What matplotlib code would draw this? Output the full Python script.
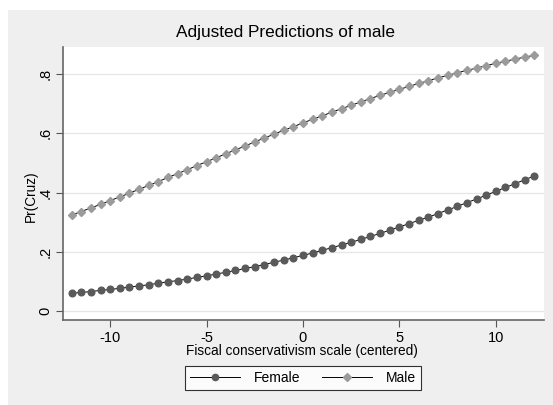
import numpy as np
import matplotlib
matplotlib.use("Agg")
from matplotlib import pyplot as plt
from matplotlib.patches import Rectangle
from matplotlib.lines import Line2D

plt.rcParams['font.family'] = ['Liberation Sans', 'DejaVu Sans']
plt.rcParams['axes.unicode_minus'] = False

# Data
fiscal = np.arange(-12, 12.01, 0.5)
female = [0.060, 0.063, 0.066, 0.070, 0.073, 0.077, 0.081, 0.085, 0.089, 0.094,
          0.099, 0.103, 0.108, 0.114, 0.119, 0.125, 0.131, 0.137, 0.144, 0.150,
          0.157, 0.165, 0.172, 0.180, 0.188, 0.196, 0.205, 0.214, 0.223, 0.232,
          0.242, 0.252, 0.262, 0.273, 0.284, 0.295, 0.306, 0.317, 0.329, 0.341,
          0.353, 0.366, 0.378, 0.391, 0.404, 0.417, 0.430, 0.443, 0.456]
male = [0.324, 0.336, 0.348, 0.360, 0.373, 0.385, 0.398, 0.411, 0.424, 0.437,
        0.451, 0.464, 0.477, 0.491, 0.504, 0.517, 0.531, 0.544, 0.557, 0.571,
        0.584, 0.597, 0.610, 0.622, 0.635, 0.647, 0.659, 0.671, 0.683, 0.694,
        0.706, 0.717, 0.728, 0.738, 0.748, 0.758, 0.768, 0.777, 0.787, 0.795,
        0.804, 0.812, 0.820, 0.828, 0.836, 0.843, 0.850, 0.857, 0.863]
xticks = [-10, -5, 0, 5, 10]
yticks = [0, 0.2, 0.4, 0.6, 0.8]
ylabels = ['0', '.2', '.4', '.6', '.8']

W, H = 553, 405
fig = plt.figure(figsize=(W / 100, H / 100), dpi=100)
fig.patch.set_facecolor('white')
# outer grey graph region
fig.patches.append(Rectangle((8 / W, 0), 1 - 8 / W, 1 - 10 / H,
                             transform=fig.transFigure, facecolor='#efefef',
                             edgecolor='none', zorder=-10))

ax = fig.add_axes([63.3 / W, 1 - 320 / H, (544 - 63.3) / W, (320 - 46.7) / H])
ax.set_facecolor('white')
ax.plot(fiscal, female, color='black', lw=0.7, marker='o', ms=4.8,
        mfc='#5a5a5a', mec='#5a5a5a', zorder=3)
ax.plot(fiscal, male, color='black', lw=0.7, marker='D', ms=4.3,
        mfc='#9b9b9b', mec='#9b9b9b', zorder=3)

ax.set_xlim(-12.43, 12.5)
ax.set_ylim(-0.03, 0.892)
ax.set_xticks(xticks)
ax.set_yticks(yticks)
ax.set_yticklabels(ylabels, rotation=90, va='center')
ax.tick_params(axis='both', labelsize=10.5, length=5, width=0.8,
               color='#555555', direction='out', pad=3)
for s in ['top', 'right']:
    ax.spines[s].set_visible(False)
for s in ['left', 'bottom']:
    ax.spines[s].set_color('#666666')
    ax.spines[s].set_linewidth(1.2)
ax.grid(axis='y', color='#e6e6e6', lw=0.9, zorder=0)
ax.set_axisbelow(True)

fig.text(286 / W, 1 - 33 / H, 'Adjusted Predictions of male', ha='center',
         va='center', fontsize=12.4)
fig.text(301.5 / W, 1 - 351 / H, 'Fiscal conservativism scale (centered)',
         ha='center', va='center', fontsize=9.8)
fig.text(31 / W, 1 - 196 / H, 'Pr(Cruz)', ha='center', va='center',
         rotation=90, fontsize=9.8)

handles = [Line2D([], [], color='black', lw=0.7, marker='o', ms=4.5,
                  mfc='#5a5a5a', mec='#5a5a5a'),
           Line2D([], [], color='black', lw=0.7, marker='D', ms=4,
                  mfc='#9b9b9b', mec='#9b9b9b')]
leg = fig.legend(handles, ['Female', 'Male'], loc='center',
                 bbox_to_anchor=(303 / W, 1 - 378 / H), ncol=2,
                 fontsize=10, frameon=True, fancybox=False,
                 handlelength=3.6, columnspacing=1.6, handletextpad=1.0,
                 borderpad=0.35, borderaxespad=0)
leg.get_frame().set_edgecolor('black')
leg.get_frame().set_linewidth(0.8)

plt.savefig('out.png', dpi=100)
